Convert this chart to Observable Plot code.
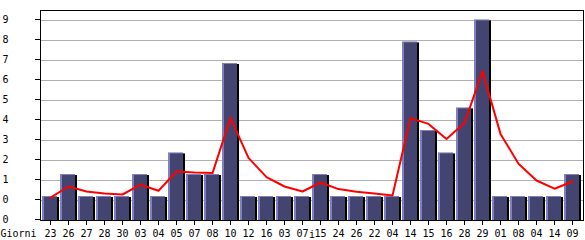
<!DOCTYPE html>
<html>
<head>
<meta charset="utf-8">
<script src="https://cdn.jsdelivr.net/npm/d3@7"></script>
<script src="https://cdn.jsdelivr.net/npm/@observablehq/plot@0.6"></script>
<style>
  html, body { margin: 0; padding: 0; background: #fff; }
</style>
</head>
<body>
<div id="chart"></div>
<script>
const days = ["23","26","27","28","30","03","04","05","07","08","10","12","16","03","07","15","24","26","22","04","14","15","16","28","29","01","08","04","14","09"];
const barValues = [1.2,2.3,1.2,1.2,1.2,2.3,1.2,3.38,2.3,2.3,7.85,1.2,1.2,1.2,1.2,2.3,1.2,1.2,1.2,1.2,8.93,4.5,3.38,5.63,10.03,1.2,1.2,1.2,1.2,2.3];
const lineValues = [1.14,1.70,1.45,1.35,1.30,1.79,1.49,2.45,2.40,2.37,5.13,3.13,2.17,1.70,1.45,1.90,1.57,1.44,1.35,1.25,5.12,4.83,4.08,4.87,7.47,4.33,2.84,2.0,1.59,1.95];
const yTicks = [0,1,2,3,4,5,6,7,8,9,10];
const yTickLabels = ["0","0","1","2","3","4","5","6","7","8","9"];
const axisTitle = "Giorni";

const data = days.map((d, i) => ({i, day: d, bar: barValues[i], avg: lineValues[i]}));
const idx = data.map(d => d.i);

const chart = Plot.plot({
  width: 585,
  height: 240,
  marginLeft: 40,
  marginRight: 2,
  marginTop: 10,
  marginBottom: 20,
  style: {fontFamily: "DejaVu Sans Mono", fontSize: "10px", background: "white", color: "black"},
  x: {type: "band", domain: idx, range: [41, 581], padding: 0},
  y: {domain: [0, 10.5]},
  marks: [
    Plot.gridY(yTicks.slice(1), {stroke: "#b0b0b0", strokeOpacity: 1}),
    Plot.barY(data, {x: "i", y: "bar", fill: "#000", insetLeft: 1, insetTop: 1}),
    Plot.barY(data, {x: "i", y: "bar", fill: "#8080c0", insetLeft: 1, insetRight: 2}),
    Plot.barY(data, {x: "i", y: "bar", fill: "#444470", insetLeft: 3, insetRight: 2, insetTop: 1}),
    Plot.line(data, {x: "i", y: "avg", stroke: "#ff0000", strokeWidth: 2}),
    Plot.frame({stroke: "black"}),
    Plot.axisY({ticks: yTicks, tickFormat: d => yTickLabels[d], tickSize: 5, tickPadding: 27, dy: -1, stroke: "black"}),
    Plot.axisX({tickFormat: i => days[i], tickSize: 5, tickPadding: 4, stroke: "black"}),
    Plot.text([axisTitle], {frameAnchor: "bottom-left", dx: -40, dy: 16, textAnchor: "start", lineAnchor: "bottom", fill: "black"})
  ]
});
document.getElementById("chart").appendChild(chart);
</script>
</body>
</html>
